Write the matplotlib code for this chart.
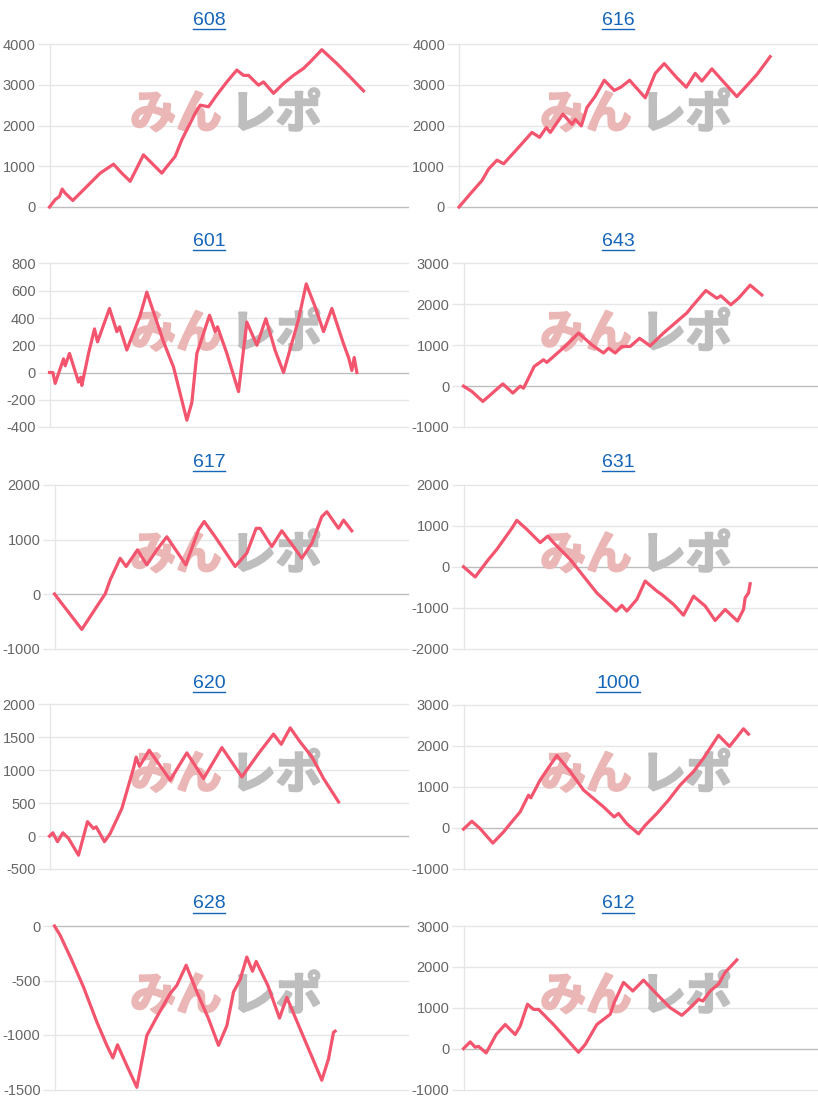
import matplotlib
matplotlib.use('Agg')
import matplotlib.pyplot as plt
import matplotlib.patheffects as pe
from matplotlib.lines import Line2D

W, H = 818, 1105
DPI = 100

# ---------------- data (games played vs. coin difference) ----------------
titles = ['608', '616', '601', '643', '617', '631', '620', '1000', '628', '612']

g608 = [0, 127, 223, 283, 350, 521, 1132, 1430, 1616, 1803, 2100, 2510, 2622, 2808, 2957, 3255, 3367,
        3553, 3739, 3963, 4186, 4335, 4447, 4670, 4782, 5006, 5229, 5452, 5676, 5825, 6086, 6421, 6719, 7017]
d608 = [0, 180, 260, 440, 340, 160, 830, 1050, 830, 630, 1280, 830, 990, 1240, 1650, 2300, 2500,
        2460, 2750, 3070, 3360, 3230, 3230, 2990, 3070, 2790, 3030, 3230, 3400, 3560, 3860, 3520, 3190, 2850]

g616 = [0, 253, 513, 662, 848, 996, 1294, 1628, 1799, 1948, 2037, 2320, 2520, 2595, 2729, 2855, 3041,
        3242, 3465, 3613, 3807, 4156, 4379, 4580, 4862, 5071, 5271, 5420, 5643, 5903, 6200, 6349, 6647, 6944]
d616 = [0, 325, 650, 935, 1150, 1060, 1420, 1830, 1710, 1950, 1830, 2280, 2030, 2150, 1990, 2440, 2720,
        3110, 2860, 2940, 3110, 2680, 3280, 3520, 3170, 2940, 3280, 3090, 3390, 3070, 2710, 2890, 3250, 3690]

g601 = [0, 75, 127, 313, 350, 447, 648, 700, 723, 872, 1006, 1073, 1341, 1505, 1565, 1728, 2026, 2175,
        2548, 2771, 3069, 3181, 3293, 3576, 3703, 3755, 3963, 4224, 4410, 4634, 4835, 5044, 5230, 5565,
        5737, 5938, 6124, 6310, 6571, 6683, 6757, 6809, 6869]
d601 = [0, 0, -80, 100, 50, 140, -70, -35, -95, 140, 320, 225, 470, 300, 335, 165, 420, 590,
        225, 40, -350, -220, 140, 420, 300, 335, 140, -140, 370, 200, 395, 160, 0, 390,
        650, 480, 300, 470, 210, 110, 15, 110, 0]

g643 = [0, 188, 437, 889, 1115, 1281, 1356, 1431, 1597, 1808, 1883, 2335, 2599, 2900, 3164, 3277,
        3428, 3578, 3767, 3977, 4218, 4520, 4821, 5047, 5198, 5477, 5725, 5815, 6041, 6215, 6478, 6742]
d643 = [0, -130, -375, 55, -170, 0, -50, 110, 480, 645, 580, 1010, 1300, 1010, 810, 930,
        810, 970, 970, 1170, 985, 1300, 1580, 1790, 1990, 2340, 2150, 2210, 1990, 2150, 2470, 2230]

g617 = [0, 619, 1035, 1148, 1262, 1488, 1624, 1881, 2092, 2319, 2546, 2772, 2976, 3263, 3392, 3641,
        4094, 4359, 4570, 4661, 4925, 5152, 5416, 5605, 5832, 6058, 6172, 6436, 6550, 6738]
d617 = [0, -650, -135, 0, 260, 655, 505, 810, 535, 810, 1050, 780, 535, 1175, 1330, 1050,
        505, 750, 1205, 1205, 870, 1160, 870, 655, 930, 1420, 1510, 1205, 1355, 1160]

g631 = [0, 264, 565, 753, 1092, 1205, 1431, 1733, 1906, 2034, 2411, 2712, 3013, 3450, 3578, 3691,
        3917, 4105, 4369, 4482, 4746, 4972, 5198, 5461, 5687, 5913, 6192, 6328, 6365, 6441, 6478]
d631 = [0, -250, 180, 425, 940, 1135, 915, 590, 750, 590, 180, -230, -640, -1085, -945, -1085,
        -800, -350, -595, -680, -920, -1185, -720, -960, -1315, -1045, -1330, -1045, -760, -640, -415]

g620 = [0, 75, 179, 298, 425, 648, 849, 983, 1043, 1229, 1356, 1617, 1877, 1937, 2012, 2228, 2697,
        3069, 3442, 3852, 4299, 4671, 5006, 5178, 5379, 5602, 5863, 6124, 6459]
d620 = [0, 50, -85, 50, -35, -290, 220, 115, 140, -85, 40, 420, 1030, 1200, 1060, 1305, 850,
        1265, 875, 1345, 900, 1255, 1550, 1395, 1645, 1430, 1205, 875, 520]

g1000 = [0, 188, 377, 663, 904, 1055, 1281, 1469, 1522, 1733, 2109, 2411, 2712, 3164, 3405, 3503,
         3691, 3955, 4105, 4369, 4633, 4896, 5198, 5424, 5763, 6011, 6328, 6441]
d1000 = [-30, 160, -20, -370, -100, 100, 390, 795, 730, 1165, 1760, 1370, 920, 510, 265, 350,
         100, -145, 60, 350, 675, 1040, 1370, 1695, 2250, 1980, 2410, 2280]

g628 = [0, 128, 393, 657, 959, 1186, 1322, 1428, 1639, 1866, 2092, 2319, 2621, 2772, 2984, 3226,
        3490, 3717, 3906, 4057, 4208, 4359, 4487, 4570, 4835, 5099, 5265, 5567, 6058, 6209, 6323, 6360]
d628 = [0, -85, -315, -560, -880, -1095, -1210, -1090, -1280, -1480, -1005, -835, -620, -545, -360, -605,
        -850, -1095, -915, -605, -490, -285, -415, -325, -545, -845, -655, -945, -1415, -1220, -975, -965]

g612 = [0, 151, 264, 339, 512, 738, 942, 1168, 1281, 1446, 1582, 1695, 2034, 2599, 2750, 3013,
        3315, 3405, 3616, 3827, 4068, 4407, 4671, 4934, 5085, 5311, 5409, 5575, 5763, 5913, 6177]
d612 = [0, 165, 35, 55, -105, 345, 590, 345, 550, 1085, 960, 960, 590, -90, 100, 590,
        840, 1125, 1620, 1410, 1675, 1290, 1000, 815, 960, 1205, 1165, 1410, 1580, 1865, 2170]

yticks_608 = [0, 1000, 2000, 3000, 4000]
yticks_616 = [0, 1000, 2000, 3000, 4000]
yticks_601 = [-400, -200, 0, 200, 400, 600, 800]
yticks_643 = [-1000, 0, 1000, 2000, 3000]
yticks_617 = [-1000, 0, 1000, 2000]
yticks_631 = [-2000, -1000, 0, 1000, 2000]
yticks_620 = [-500, 0, 500, 1000, 1500, 2000]
yticks_1000 = [-1000, 0, 1000, 2000, 3000]
yticks_628 = [-1500, -1000, -500, 0]
yticks_612 = [-1000, 0, 1000, 2000, 3000]

series_x = [g608, g616, g601, g643, g617, g631, g620, g1000, g628, g612]
series_y = [d608, d616, d601, d643, d617, d631, d620, d1000, d628, d612]
series_ticks = [yticks_608, yticks_616, yticks_601, yticks_643, yticks_617,
                yticks_631, yticks_620, yticks_1000, yticks_628, yticks_612]
X_MAX = 8000

# ---------------- layout (pixels) ----------------
row_top = [44, 263.5, 485, 704.5, 926]
row_bot = [207, 427, 648.5, 869, 1089.5]
title_y = [20.5, 241.5, 462.5, 683, 904]
col_title_x = [209, 618]
col_right = [407.5, 817.5]
axis_left = [49.5, 459, 49.5, 463.5, 54.5, 463.5, 49.5, 463.5, 54.5, 463.5]
wm_x = [(176, 276), (586, 686)]

LINE_COLOR = '#F3546E'
GRID_COLOR = '#E6E6E6'
ZERO_COLOR = '#BDBDBD'
LABEL_COLOR = '#666666'
TITLE_COLOR = '#1565B8'
WM_PINK = '#EBB6B6'
WM_GREY = '#BEBEBE'

fig = plt.figure(figsize=(W / DPI, H / DPI), dpi=DPI)
fig.patch.set_facecolor('white')

title_texts = []
for i in range(10):
    r, c = divmod(i, 2)
    left = axis_left[i]
    right = col_right[c]
    top, bot = row_top[r], row_bot[r]
    ax = fig.add_axes([left / W, 1 - bot / H, (right - left) / W, (bot - top) / H])
    ax.set_facecolor('none')
    ticks = series_ticks[i]
    ax.set_xlim(0, X_MAX)
    ax.set_ylim(ticks[0], ticks[-1])
    ax.set_xticks([])
    ax.set_yticks(ticks)
    ax.set_yticklabels([str(t) for t in ticks], family=['Liberation Sans', 'DejaVu Sans'])
    ax.tick_params(axis='y', length=9, width=1, color=GRID_COLOR, labelcolor=LABEL_COLOR,
                   labelsize=10.5, pad=1.0)
    for s in ['top', 'right', 'bottom']:
        ax.spines[s].set_visible(False)
    ax.spines['left'].set_color(GRID_COLOR)
    ax.spines['left'].set_linewidth(1)
    for t in ticks:
        ax.axhline(t, color=ZERO_COLOR if t == 0 else GRID_COLOR, lw=1, zorder=0.5, clip_on=False)

    # watermark
    wy = (bot - (top + 71)) / (bot - top)
    px_pink, px_grey = wm_x[c]
    ax.text((px_pink - left) / (right - left), wy, 'みん', transform=ax.transAxes,
            ha='center', va='center', fontsize=33, fontweight='bold', color=WM_PINK,
            family=['Noto Sans CJK JP', 'DejaVu Sans'], zorder=1,
            path_effects=[pe.withStroke(linewidth=1.6, foreground=WM_PINK)])
    ax.text((px_grey - left) / (right - left), wy, 'レポ', transform=ax.transAxes,
            ha='center', va='center', fontsize=33, fontweight='bold', color=WM_GREY,
            family=['Noto Sans CJK JP', 'DejaVu Sans'], zorder=1,
            path_effects=[pe.withStroke(linewidth=1.6, foreground=WM_GREY)])

    ax.plot(series_x[i], series_y[i], color=LINE_COLOR, lw=2.3, solid_joinstyle='round',
            zorder=3, clip_on=False)

    tt = fig.text(col_title_x[c] / W, 1 - title_y[r] / H, titles[i], ha='center', va='center',
                  fontsize=14, color=TITLE_COLOR, family=['Liberation Sans', 'DejaVu Sans'])
    title_texts.append((tt, title_y[r]))

fig.canvas.draw()
renderer = fig.canvas.get_renderer()
for tt, ty in title_texts:
    bb = tt.get_window_extent(renderer)
    uy = 1 - (ty + 8.5) / H
    fig.add_artist(Line2D([bb.x0 / W, bb.x1 / W], [uy, uy], transform=fig.transFigure,
                          color=TITLE_COLOR, lw=1.0))

fig.savefig('out.png', dpi=DPI, facecolor='white')
